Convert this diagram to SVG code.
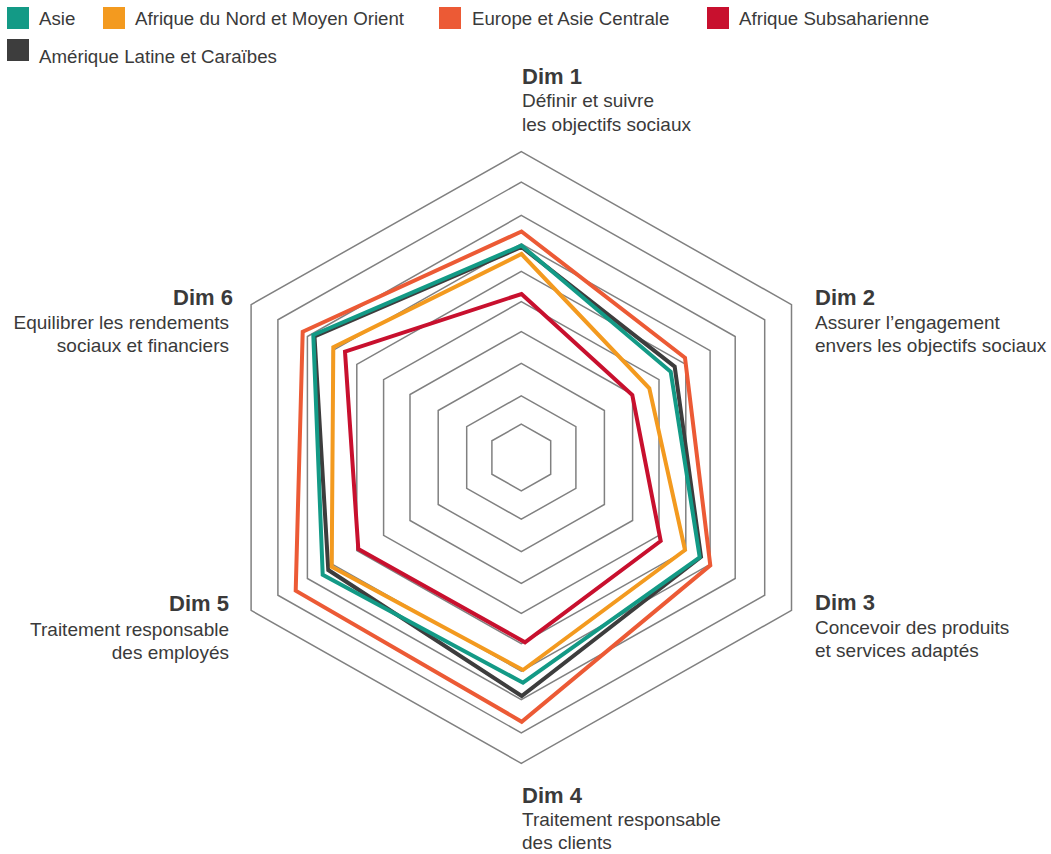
<svg xmlns="http://www.w3.org/2000/svg" width="1051" height="854" viewBox="0 0 1051 854">
<style>
.bg{fill:#ffffff}
.grid{fill:none;stroke:#808080;stroke-width:1.5}
.s{fill:none;stroke-width:4;stroke-linejoin:miter}
.lg{font-family:"Liberation Sans",Arial,sans-serif;font-size:18.7px;fill:#3a3a3a}
.dim{font-family:"Liberation Sans",Arial,sans-serif;font-size:22px;font-weight:bold;fill:#3a3a3a}
.lab{font-family:"Liberation Sans",Arial,sans-serif;font-size:19px;fill:#3a3a3a}
</style>
<rect class="bg" x="0" y="0" width="1051" height="854"/>
<g id="legend">
<rect x="7" y="7" width="22" height="22" fill="#139a86"/>
<text class="lg" x="39" y="24.5">Asie</text>
<rect x="103" y="7" width="22" height="22" fill="#f39a1f"/>
<text class="lg" x="135" y="24.5">Afrique du Nord et Moyen Orient</text>
<rect x="439" y="7" width="22" height="22" fill="#ec5a35"/>
<text class="lg" x="472" y="24.5">Europe et Asie Centrale</text>
<rect x="707" y="7" width="22" height="22" fill="#c8102e"/>
<text class="lg" x="739" y="24.5">Afrique Subsaharienne</text>
<rect x="7" y="39" width="22" height="22" fill="#3d3d3d"/>
<text class="lg" x="39" y="63">Amérique Latine et Caraïbes</text>
</g>
<g id="grid">
<polygon class="grid" points="521.3,424.2 550.7,440.8 550.7,474.2 521.3,490.8 491.9,474.2 491.9,440.8"/>
<polygon class="grid" points="521.3,395.8 575.9,426.6 575.9,488.4 521.3,519.2 466.7,488.4 466.7,426.6"/>
<polygon class="grid" points="521.3,363.4 604.4,410.5 604.4,504.5 521.3,551.6 438.2,504.5 438.2,410.5"/>
<polygon class="grid" points="521.3,331.6 632.6,394.5 632.6,520.5 521.3,583.4 410.0,520.5 410.0,394.5"/>
<polygon class="grid" points="521.3,301.7 659.0,379.6 659.0,535.4 521.3,613.3 383.6,535.4 383.6,379.6"/>
<polygon class="grid" points="521.3,271.3 685.8,364.4 685.8,550.6 521.3,643.7 356.8,550.6 356.8,364.4"/>
<polygon class="grid" points="521.3,243.9 710.1,350.7 710.1,564.3 521.3,671.1 332.5,564.3 332.5,350.7"/>
<polygon class="grid" points="521.3,215.4 735.2,336.5 735.2,578.5 521.3,699.6 307.4,578.5 307.4,336.5"/>
<polygon class="grid" points="521.3,182.1 764.7,319.8 764.7,595.2 521.3,732.9 277.9,595.2 277.9,319.8"/>
<polygon class="grid" points="521.3,151.7 791.5,304.6 791.5,610.4 521.3,763.3 251.1,610.4 251.1,304.6"/>
</g>
<g id="series">
<polygon id="europe" class="s" stroke="#ec5a35" points="521.5,231.5 685,357.7 710.3,565.3 521.7,721.7 295.7,590.7 302.7,331.7"/>
<polygon id="amerique" class="s" stroke="#3d3d3d" points="521.5,247 674.7,366.7 701,557 521.7,696 328.3,570 314.5,336.5"/>
<polygon id="asie" class="s" stroke="#139a86" points="521.5,245.5 670.7,371.7 699.7,557.3 523,682.7 322.7,574.7 313.3,335"/>
<polygon id="afnmo" class="s" stroke="#f39a1f" points="521.5,254 649.3,388.3 685,550 523,670 331.7,566.7 333.3,347.3"/>
<polygon id="afsub" class="s" stroke="#c8102e" points="521.5,294 632.3,395 660.7,541 525,642.3 358.3,549 345,351.7"/>
</g>
<g id="dim1">
<text class="dim" x="522" y="84">Dim 1</text>
<text class="lab" x="522" y="107">Définir et suivre</text>
<text class="lab" x="522" y="131">les objectifs sociaux</text>
</g>
<g id="dim2">
<text class="dim" x="815" y="305">Dim 2</text>
<text class="lab" x="815" y="329">Assurer l’engagement</text>
<text class="lab" x="815" y="352">envers les objectifs sociaux</text>
</g>
<g id="dim3">
<text class="dim" x="815" y="610">Dim 3</text>
<text class="lab" x="815" y="634">Concevoir des produits</text>
<text class="lab" x="815" y="657">et services adaptés</text>
</g>
<g id="dim4">
<text class="dim" x="522" y="803">Dim 4</text>
<text class="lab" x="522" y="826">Traitement responsable</text>
<text class="lab" x="522" y="849">des clients</text>
</g>
<g id="dim5" text-anchor="end">
<text class="dim" x="229" y="611">Dim 5</text>
<text class="lab" x="229" y="636">Traitement responsable</text>
<text class="lab" x="229" y="659">des employés</text>
</g>
<g id="dim6" text-anchor="end">
<text class="dim" x="233" y="305">Dim 6</text>
<text class="lab" x="229" y="329">Equilibrer les rendements</text>
<text class="lab" x="229" y="352">sociaux et financiers</text>
</g>
</svg>
